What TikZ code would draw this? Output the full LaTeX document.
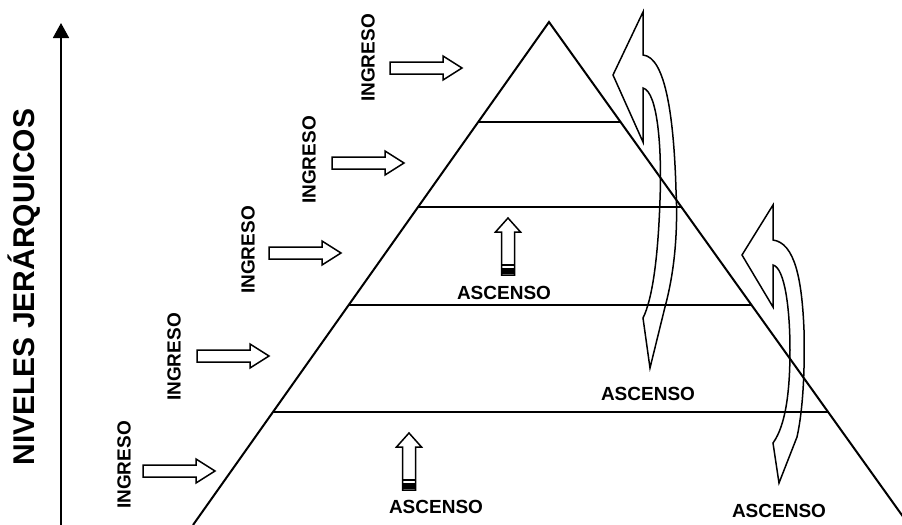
\documentclass[tikz,border=0pt]{standalone}
\usepackage{fontspec}
\setmainfont{Liberation Sans}
\usetikzlibrary{arrows.meta,calc}
\begin{document}
\begin{tikzpicture}[x=0.5pt,y=-0.5pt,
  edge/.style={line width=1pt},
  outline/.style={line width=0.75pt, line join=miter},
  lbl/.style={font=\bfseries\fontsize{9.5}{10}\selectfont, inner sep=0pt},
  ingreso/.style={lbl, rotate=90},
  rarrow/.pic={\draw[outline] (0,-6) -- (53,-6) -- (53,-12) -- (72,0) -- (53,12) -- (53,6) -- (0,6) -- cycle;},
  uarrow/.pic={\draw[outline] (0,0) -- (12.5,14) -- (6.5,14) -- (6.5,57) -- (-6.5,57) -- (-6.5,14) -- (-12.5,14) -- cycle;
    \draw[line width=0.75pt] (-6.5,47) -- (6.5,47);
    \fill (-6.5,50) rectangle (6.5,56);}
]
\useasboundingbox (0,0) rectangle (902,525);
\clip (0,0) rectangle (902,525);

% vertical axis
\coordinate (axb) at (61,525);
\coordinate (axt) at (61,23);
\draw[line width=0.9pt,-{Triangle[width=8pt,length=7.5pt]}] (axb) -- (axt);
\node[lbl, font=\bfseries\fontsize{15}{16}\selectfont, rotate=90] (niv) at (24,287) {NIVELES JERÁRQUICOS};

% pyramid
\coordinate (apex) at (549,22);
\coordinate (bl) at (193,525);
\coordinate (br) at (909,525);
\draw[edge] (bl) -- (apex) -- (br);
\foreach \f in {0.1988,0.3678,0.5626,0.7753}
  \draw[edge] ($(apex)!\f!(bl)$) -- ($(apex)!\f!(br)$);

% ingreso arrows
\pic at (390,68) {rarrow};
\pic at (332,163) {rarrow};
\pic at (269,253) {rarrow};
\pic at (197,356) {rarrow};
\pic at (143,471) {rarrow};
\node[ingreso] (i1) at (368,58) {INGRESO};
\node[ingreso] (i2) at (309,160) {INGRESO};
\node[ingreso] (i3) at (248,250) {INGRESO};
\node[ingreso] (i4) at (174,357) {INGRESO};
\node[ingreso] (i5) at (124,465) {INGRESO};

% ascenso up arrows
\pic at (508,218) {uarrow};
\pic at (409,433) {uarrow};
\node[lbl] (a1) at (504,293) {ASCENSO};
\node[lbl] (a2) at (436,507) {ASCENSO};
\node[lbl] (a3) at (648,394) {ASCENSO};
\node[lbl] (a4) at (779,511) {ASCENSO};

% curved arrows
\draw[outline] (643,55) -- (643,12) -- (613,75) -- (643,142) -- (643,88)
  .. controls (658,92) and (662,150) .. (660,200)
  .. controls (658,260) and (652,300) .. (643,318)
  -- (650,368) -- (665,307)
  .. controls (675,270) and (678,230) .. (676,190)
  .. controls (674,120) and (666,57) .. (643,55) -- cycle;
\draw[outline] (773,240) -- (773,205) -- (742,255) -- (773,307) -- (773,265)
  .. controls (785,268) and (790,310) .. (790,350)
  .. controls (790,390) and (786,425) .. (773,443)
  -- (779,483) -- (797,437)
  .. controls (803,410) and (805,370) .. (804,330)
  .. controls (802,280) and (795,243) .. (773,240) -- cycle;
\end{tikzpicture}
\end{document}
